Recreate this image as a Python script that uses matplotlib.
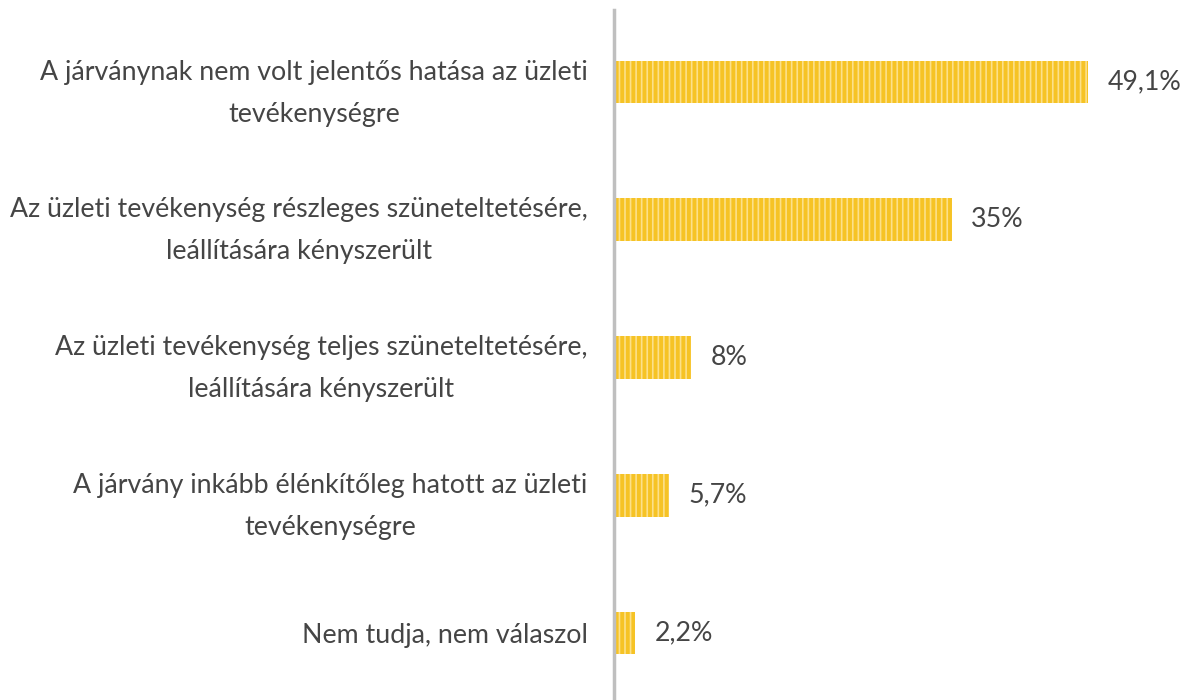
import matplotlib.pyplot as plt
from matplotlib import font_manager

labels = [
    "A járványnak nem volt jelentős hatása az üzleti\ntevékenységre",
    "Az üzleti tevékenység részleges szüneteltetésére,\nleállítására kényszerült",
    "Az üzleti tevékenység teljes szüneteltetésére,\nleállítására kényszerült",
    "A járvány inkább élénkítőleg hatott az üzleti\ntevékenységre",
    "Nem tudja, nem válaszol",
]
values = [49.1, 35, 8, 5.7, 2.2]
value_labels = ["49,1%", "35%", "8%", "5,7%", "2,2%"]

names = {f.name for f in font_manager.fontManager.ttflist}
family = "Liberation Sans Narrow" if "Liberation Sans Narrow" in names else "Lato"
plt.rcParams['font.family'] = [family, 'DejaVu Sans']
plt.rcParams['hatch.linewidth'] = 1.2

fig = plt.figure(figsize=(11.84, 7), dpi=100)
ax = fig.add_axes([0.5186, 0, 0.4814, 0.9857])

pos = list(range(len(values)))
ax.barh(pos, values, height=0.31, color='#F6C325', edgecolor='#FCE08A',
        hatch='|||', linewidth=0)

# value labels to the right of the bars
for y, v, t in zip(pos, values, value_labels):
    ax.text(v + 2.0, y, t, va='center', ha='left', fontsize=19.3, color='#454545')

ax.set_xlim(0, 59.04)
ax.set_ylim(4.486, -0.523)
ax.set_yticks(pos)
ax.set_yticklabels(labels, fontsize=19.3, color='#454545', multialignment='center',
                   linespacing=1.85)
ax.tick_params(axis='y', length=0, pad=19)
ax.set_xticks([])
for s in ['top', 'right', 'bottom']:
    ax.spines[s].set_visible(False)
ax.spines['left'].set_color('#BFBFBF')
ax.spines['left'].set_linewidth(2.5)

fig.savefig("out.png", dpi=100)
